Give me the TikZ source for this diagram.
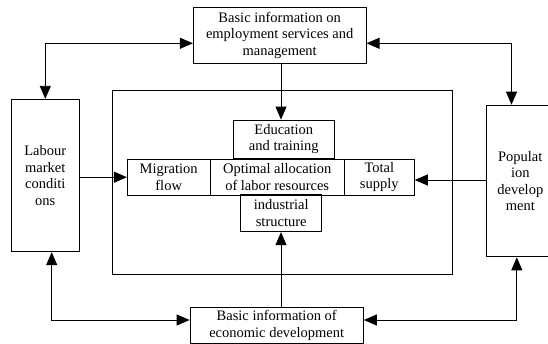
\documentclass[tikz,border=0pt]{standalone}
\usepackage{fontspec}
\setmainfont{Liberation Serif}
\usetikzlibrary{arrows.meta}
\tikzset{
  box/.style={draw, line width=0.9pt, align=center, inner sep=0pt,
    font=\fontsize{14.5}{16.6}\selectfont},
  conn/.style={line width=0.9pt, -{Triangle[length=13pt,width=11pt]}},
  bconn/.style={line width=0.9pt, {Triangle[length=13pt,width=11pt]}-{Triangle[length=13pt,width=11pt]}}
}
\begin{document}
\begin{tikzpicture}[x=1pt,y=-1pt]
\clip (0,0) rectangle (548,344);
\node[box, minimum width=172.7pt, minimum height=56pt] (top) at (279.7,35.3)
  {Basic information on\\employment services and\\management};
\node[box, minimum width=67.3pt, minimum height=152.4pt] (left) at (45.3,175.5)
  {Labour\\market\\conditi\\ons};
\node[box, minimum width=67.3pt, minimum height=151.7pt] (right) at (520.3,181)
  {Populat\\ion\\develop\\ment};
\node[box, minimum width=340.4pt, minimum height=184.3pt] (big) at (282.5,182.2) {};
\node[box, minimum width=101pt, minimum height=38.3pt] (edu) at (283.8,139.2)
  {Education\\and training};
\node[box, minimum width=82.7pt, minimum height=35.7pt] (mig) at (168.7,177.2)
  {Migration\\flow};
\node[box, minimum width=134.3pt, minimum height=35.7pt] (opt) at (277.2,177.2)
  {Optimal allocation\\of labor resources};
\node[box, minimum width=70pt, minimum height=35.7pt] (tot) at (379.3,177.2)
  {Total\\supply};
\node[box, minimum width=81pt, minimum height=36.7pt] (ind) at (281.2,213.3)
  {industrial\\structure};
\node[box, minimum width=173.3pt, minimum height=36pt] (bot) at (276.7,325.3)
  {Basic information of\\economic development};
\coordinate (cx) at (281,0);
\coordinate (a1) at (45.3,43.3);
\coordinate (a2) at (511.5,43.3);
\coordinate (a3) at (486.7,180);
\coordinate (b1) at (51.7,320);
\coordinate (b2) at (516.8,320);
\draw[conn] (top.south -| cx) -- (edu.north -| cx);
\draw[conn] (bot.north -| cx) -- (ind.south -| cx);
\draw[bconn] (left.north) -- (a1) -- (a1 -| top.west);
\draw[bconn] (right.north -| a2) -- (a2) -- (a2 -| top.east);
\draw[conn] (left.east |- mig.west) -- (mig.west);
\draw[conn] (right.west |- a3) -- (tot.east |- a3);
\draw[bconn] (left.south -| b1) -- (b1) -- (b1 -| bot.west);
\draw[bconn] (right.south -| b2) -- (b2) -- (b2 -| bot.east);
\end{tikzpicture}
\end{document}
